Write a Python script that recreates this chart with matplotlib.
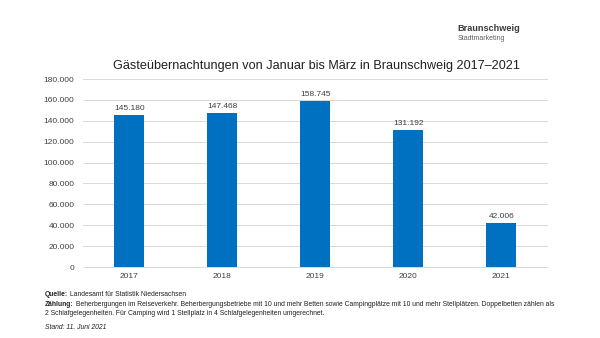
import matplotlib.pyplot as plt

plt.rcParams['font.family'] = ['Liberation Sans', 'DejaVu Sans']

years = ['2017', '2018', '2019', '2020', '2021']
guests = [145180, 147468, 158745, 131192, 42006]
y_ticks = list(range(0, 180001, 20000))


def de_fmt(v):
    return f'{v:,}'.replace(',', '.')


fig = plt.figure(figsize=(6, 3.38), dpi=100)
fig.patch.set_facecolor('white')
ax = fig.add_axes([0.138, 0.210, 0.775, 0.556])

x = range(len(years))
bars = ax.bar(x, guests, width=0.32, color='#0070c0', zorder=3)
for b, v in zip(bars, guests):
    ax.text(b.get_x() + b.get_width() / 2, v + 3000, de_fmt(v),
            ha='center', va='bottom', fontsize=6, color='#404040')

ax.set_xlim(-0.5, len(years) - 0.5)
ax.set_ylim(0, 180000)
ax.set_yticks(y_ticks)
ax.set_yticklabels([de_fmt(t) for t in y_ticks])
ax.set_xticks(list(x))
ax.set_xticklabels(years)
ax.tick_params(axis='both', length=0, labelsize=6, colors='#404040')
ax.tick_params(axis='y', pad=6)
ax.tick_params(axis='x', pad=4)
ax.grid(axis='y', color='#d9d9d9', linewidth=0.7, zorder=0)
for s in ['top', 'right', 'left']:
    ax.spines[s].set_visible(False)
ax.spines['bottom'].set_color('#d9d9d9')
ax.spines['bottom'].set_linewidth(0.7)

fig.text(0.527, 0.805, 'Gästeübernachtungen von Januar bis März in Braunschweig 2017–2021',
         ha='center', va='center', fontsize=9.1, color='#202020')

# logo text
fig.text(0.762, 0.915, 'Braunschweig', ha='left', va='center', fontsize=6.6,
         fontweight='bold', color='#3a3a3a')
fig.text(0.763, 0.885, 'Stadtmarketing', ha='left', va='center', fontsize=5,
         color='#606060')

FS = 4.85


# footnotes: bold label followed by normal text
def note(y, label, rest):
    t = fig.text(0.075, y, label, fontsize=FS, fontweight='bold',
                 color='#202020', va='baseline')
    ax.annotate(rest, xy=(1, 0), xycoords=t, xytext=(1.5, 0),
                textcoords='offset points', fontsize=FS, color='#202020',
                va='bottom', annotation_clip=False)


note(0.124, 'Quelle:', 'Landesamt für Statistik Niedersachsen')
note(0.095, 'Zählung:', 'Beherbergungen im Reiseverkehr. Beherbergungsbetriebe mit 10 und mehr Betten '
     'sowie Campingplätze mit 10 und mehr Stellplätzen. Doppelbetten zählen als')
fig.text(0.075, 0.069,
         '2 Schlafgelegenheiten. Für Camping wird 1 Stellplatz in 4 Schlafgelegenheiten umgerechnet.',
         fontsize=FS, color='#202020', va='baseline')
fig.text(0.075, 0.027, 'Stand: 11. Juni 2021', fontsize=FS, style='italic',
         color='#202020', va='baseline')

fig.savefig('out.png', dpi=100, facecolor='white')
